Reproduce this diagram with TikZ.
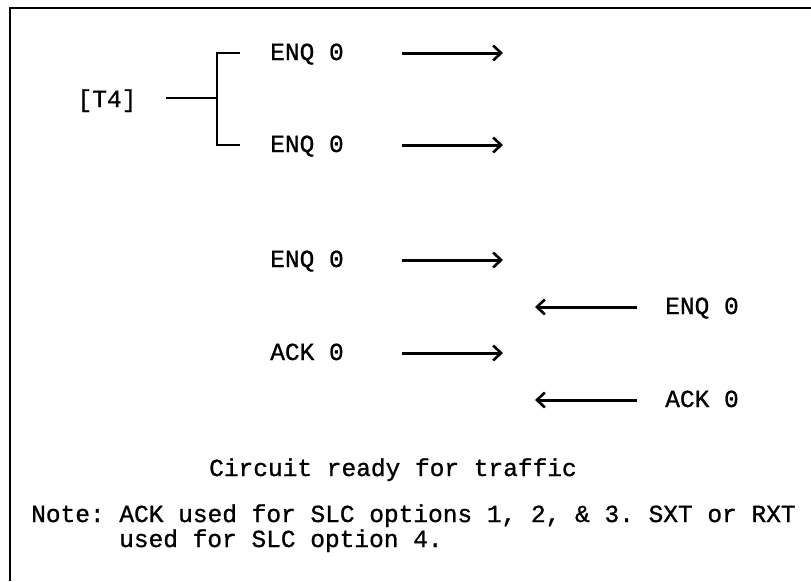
\documentclass[tikz,border=0pt]{standalone}
\usepackage{fontspec}
\setmainfont{Liberation Mono}[FakeBold=1]
\usetikzlibrary{arrows.meta}
\frenchspacing
\begin{document}
\begin{tikzpicture}[x=1pt,y=-1pt,
  txt/.style={font=\fontsize{24.5}{25}\selectfont, inner sep=0pt, anchor=base},
  ln/.style={line width=2.8pt},
  arr/.style={line width=3pt, -{Straight Barb[length=8pt,width=15pt,line width=2.6pt]}},
  frame/.style={line width=2.6pt}
]
\useasboundingbox (0,0) rectangle (811,581);
% frame
\coordinate (fbl) at (10,581);
\coordinate (ftl) at (10,8);
\coordinate (ftr) at (811,8);
\draw[frame] (fbl) -- (ftl) -- (ftr);

% texts
\node[txt] (t4) at (107,107) {[T4]};
\node[txt] (e1) at (307,60) {ENQ 0};
\node[txt] (e2) at (307,152) {ENQ 0};
\node[txt] (e3) at (307,267) {ENQ 0};
\node[txt] (a1) at (307,360) {ACK 0};
\node[txt] (e4) at (702,314) {ENQ 0};
\node[txt] (a2) at (702,407) {ACK 0};
\node[txt] (cr) at (393,476) {Circuit ready for traffic};
\node[txt, anchor=base west] (nt1) at (31,522) {Note: ACK used for SLC options 1, 2, \& 3. SXT or RXT};
\node[txt, anchor=base west] (nt2) at (119,547) {used for SLC option 4.};

% bracket
\coordinate (s) at (166,98);
\coordinate (j) at (217,98);
\coordinate (bt) at (217,53);
\coordinate (bb) at (217,145);
\coordinate (tt) at (240,53);
\coordinate (tb) at (240,145);
\draw[ln] (s) -- (j);
\draw[ln] (tt) -- (bt) -- (bb) -- (tb);

% right arrows
\coordinate (r1s) at (402,53);  \coordinate (r1e) at (503,53);
\coordinate (r2s) at (402,145); \coordinate (r2e) at (503,145);
\coordinate (r3s) at (402,260); \coordinate (r3e) at (503,260);
\coordinate (r4s) at (402,353); \coordinate (r4e) at (503,353);
\draw[arr] (r1s) -- (r1e);
\draw[arr] (r2s) -- (r2e);
\draw[arr] (r3s) -- (r3e);
\draw[arr] (r4s) -- (r4e);

% left arrows
\coordinate (l1s) at (637,307); \coordinate (l1e) at (535,307);
\coordinate (l2s) at (637,400); \coordinate (l2e) at (535,400);
\draw[arr] (l1s) -- (l1e);
\draw[arr] (l2s) -- (l2e);
\end{tikzpicture}
\end{document}
